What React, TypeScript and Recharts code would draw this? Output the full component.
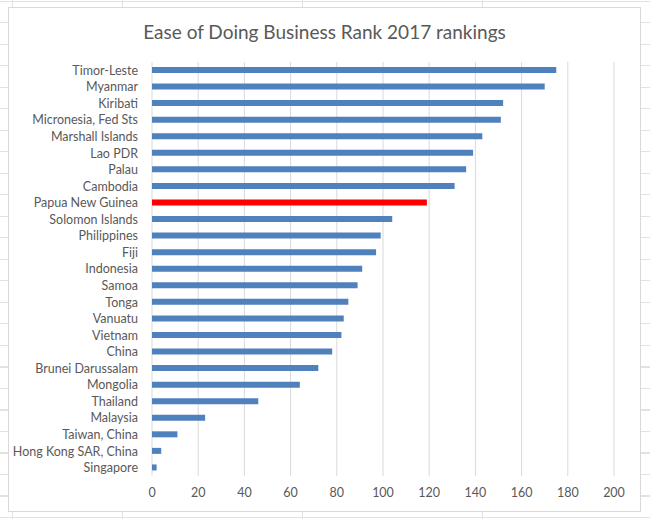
import React from "react";
import { Bar, BarChart, CartesianGrid, Cell, XAxis, YAxis } from "recharts";

const countries = [
  "Timor-Leste",
  "Myanmar",
  "Kiribati",
  "Micronesia, Fed Sts",
  "Marshall Islands",
  "Lao PDR",
  "Palau",
  "Cambodia",
  "Papua New Guinea",
  "Solomon Islands",
  "Philippines",
  "Fiji",
  "Indonesia",
  "Samoa",
  "Tonga",
  "Vanuatu",
  "Vietnam",
  "China",
  "Brunei Darussalam",
  "Mongolia",
  "Thailand",
  "Malaysia",
  "Taiwan, China",
  "Hong Kong SAR, China",
  "Singapore",
];

const ranks = [
  175, 170, 152, 151, 143, 139, 136, 131, 119, 104, 99, 97, 91, 89, 85, 83, 82,
  78, 72, 64, 46, 23, 11, 4, 2,
];

const xTicks = [0, 20, 40, 60, 80, 100, 120, 140, 160, 180, 200];

const highlight = "Papua New Guinea";

const data = countries.map((country, i) => ({ country, rank: ranks[i] }));

const FONT = "Lato, 'Open Sans', sans-serif";
const TEXT = "#595959";

// plain tick so long names don't wrap
function CountryTick(props: any) {
  const { x, y, payload } = props;
  return (
    <text
      x={x}
      y={y}
      dy="0.355em"
      textAnchor="end"
      fill={TEXT}
      fontSize={12.5}
      fontFamily={FONT}
    >
      {payload.value}
    </text>
  );
}

export default function App() {
  return (
    <div
      style={{
        position: "absolute",
        left: 0,
        top: 0,
        width: 650,
        height: 519,
        overflow: "hidden",
        backgroundColor: "#fff",
        backgroundImage:
          "repeating-linear-gradient(to right, #e2e2e2 0px, #e2e2e2 1px, transparent 1px, transparent 180px), repeating-linear-gradient(to bottom, #e2e2e2 0px, #e2e2e2 1px, transparent 1px, transparent 21.5px)",
        backgroundPosition: "122px 0px, 0px 1px",
        fontFamily: FONT,
      }}
    >
      <div
        style={{
          position: "absolute",
          left: 8,
          top: 7,
          width: 633,
          height: 505,
          boxSizing: "border-box",
          border: "1px solid #d9d9d9",
          background: "#fff",
        }}
      >
        <div
          style={{
            position: "absolute",
            left: 0,
            right: 0,
            top: 12,
            textAlign: "center",
            fontSize: 19,
            color: TEXT,
          }}
        >
          Ease of Doing Business Rank 2017 rankings
        </div>
        <BarChart
          width={631}
          height={503}
          data={data}
          layout="vertical"
          margin={{ top: 54, right: 26, left: 0, bottom: 5 }}
        >
          <CartesianGrid horizontal={false} stroke="#d9d9d9" />
          <XAxis
            type="number"
            domain={[0, 200]}
            ticks={xTicks}
            axisLine={false}
            tickLine={false}
            tickSize={0}
            tickMargin={12}
            height={30}
            tick={{ fill: TEXT, fontSize: 12.5, fontFamily: FONT }}
          />
          <YAxis
            type="category"
            dataKey="country"
            width={143}
            interval={0}
            axisLine={false}
            tickLine={false}
            tickSize={0}
            tickMargin={14}
            tick={<CountryTick />}
          />
          <Bar dataKey="rank" barSize={6} isAnimationActive={false}>
            {data.map((d, i) => (
              <Cell
                key={`cell-${i}`}
                fill={d.country === highlight ? "#ff0000" : "#4f81bd"}
              />
            ))}
          </Bar>
        </BarChart>
      </div>
    </div>
  );
}
